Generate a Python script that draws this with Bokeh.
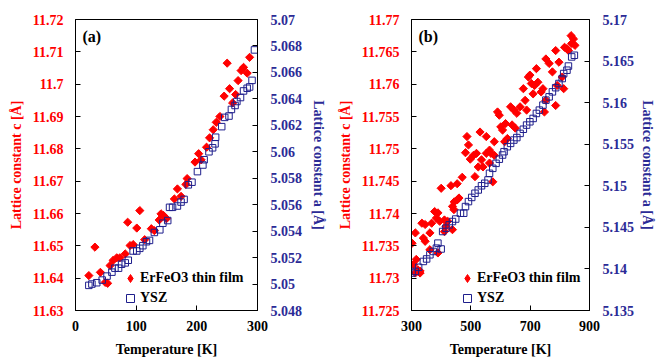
from bokeh.plotting import figure
from bokeh.models import (Range1d, LinearAxis, FixedTicker, CustomJSTickFormatter,
                          Legend, LegendItem, Label)
from bokeh.layouts import row
from bokeh.embed import file_html
from bokeh.resources import INLINE

# ---------------- data : panel (a) ----------------
a_film_T = [22, 32, 41, 49, 53, 57, 62, 68, 73, 82, 86, 90, 95, 101, 106, 114, 125, 130,
            138, 141, 145, 150, 163, 168, 174, 182, 184, 197, 203, 207, 216, 221, 227, 232,
            238, 245, 250, 254, 259, 264, 268, 273, 277, 283, 287]
a_film_c = [11.6408, 11.6496, 11.6418, 11.6387, 11.6384, 11.6439, 11.6455, 11.6463, 11.6463,
            11.6475, 11.6573, 11.6501, 11.6504, 11.6555, 11.6609, 11.6519, 11.6553, 11.6547,
            11.6580, 11.6599, 11.6594, 11.6584, 11.6645, 11.6676, 11.6653, 11.6690, 11.6708,
            11.6759, 11.6785, 11.6766, 11.6805, 11.6834, 11.6859, 11.6882, 11.6900, 11.6963,
            11.7065, 11.6986, 11.6942, 11.6968, 11.7011, 11.7042, 11.7052, 11.7034, 11.7083]
a_ysz_T = [22, 27, 35, 44, 52, 60, 65, 71, 76, 82, 87, 95, 101, 106, 111, 117, 122, 130, 139,
           144, 152, 155, 160, 168, 174, 179, 186, 192, 201, 210, 212, 220, 226, 230, 231, 241,
           246, 253, 257, 263, 266, 272, 277, 283, 287, 291, 295]
a_ysz_a = [5.0499, 5.0500, 5.0501, 5.0503, 5.0506, 5.0509, 5.0512, 5.0512, 5.0515, 5.0516,
           5.0518, 5.0525, 5.0525, 5.0527, 5.0529, 5.0532, 5.0533, 5.0539, 5.0541, 5.0546,
           5.0548, 5.0558, 5.0558, 5.0559, 5.0562, 5.0564, 5.0575, 5.0577, 5.0585, 5.0590,
           5.0594, 5.0600, 5.0603, 5.0606, 5.0611, 5.0619, 5.0626, 5.0627, 5.0632, 5.0635,
           5.0638, 5.0641, 5.0646, 5.0648, 5.0649, 5.0654, 5.0677]

# ---------------- data : panel (b) ----------------
b_film_T = [302, 307, 313, 316, 321, 329, 335, 340, 346, 346, 362, 368, 362, 378, 384, 389,
            395, 389, 400, 411, 416, 433, 438, 443, 438, 454, 454, 460, 471, 487, 492, 482,
            498, 509, 519, 514, 531, 536, 541, 552, 552, 563, 568, 579, 579, 563, 574, 590,
            596, 601, 607, 617, 614, 623, 634, 645, 639, 650, 655, 666, 677, 683, 688, 694,
            699, 704, 710, 721, 715, 726, 737, 743, 748, 753, 753, 764, 775, 786, 786, 791,
            797, 808, 813, 816, 824, 829, 838, 846, 840, 851, 444, 422, 411, 525, 313, 329]
b_film_c = [11.7354, 11.7321, 11.7370, 11.7329, 11.7313, 11.7311, 11.7385, 11.7362, 11.7383,
            11.7357, 11.7370, 11.7385, 11.7344, 11.7403, 11.7393, 11.7401, 11.7388, 11.7339,
            11.7439, 11.7390, 11.7380, 11.7443, 11.7411, 11.7406, 11.7375, 11.7446, 11.7421,
            11.7424, 11.7456, 11.7519, 11.7506, 11.7494, 11.7484, 11.7490, 11.7493, 11.7457,
            11.7526, 11.7483, 11.7472, 11.7519, 11.7493, 11.7498, 11.7493, 11.7511, 11.7490,
            11.7478, 11.7449, 11.7557, 11.7552, 11.7534, 11.7529, 11.7539, 11.7511, 11.7516,
            11.7565, 11.7560, 11.7537, 11.7532, 11.7555, 11.7565, 11.7593, 11.7575, 11.7560,
            11.7611, 11.7614, 11.7601, 11.7585, 11.7624, 11.7598, 11.7603, 11.7588, 11.7593,
            11.7557, 11.7575, 11.7639, 11.7632, 11.7619, 11.7652, 11.7567, 11.7598, 11.7634,
            11.7611, 11.7593, 11.7657, 11.7655, 11.7652, 11.7675, 11.7670, 11.7663, 11.7660,
            11.7418, 11.7388, 11.7372, 11.7472, 11.7308, 11.7308]
b_ysz_T = [302, 313, 324, 340, 351, 362, 373, 384, 389, 400, 405, 416, 427, 438, 449, 465,
           476, 482, 492, 503, 514, 525, 536, 547, 558, 563, 574, 585, 596, 607, 612, 623,
           634, 645, 655, 666, 677, 688, 699, 710, 721, 731, 743, 753, 764, 775, 786, 797,
           808, 813, 824, 829, 840, 849]
b_ysz_a = [5.1395, 5.1397, 5.1402, 5.1409, 5.1412, 5.1417, 5.1421, 5.1425, 5.1431, 5.1424,
           5.1445, 5.1449, 5.1453, 5.1457, 5.1460, 5.1467, 5.1467, 5.1475, 5.1481, 5.1486,
           5.1491, 5.1495, 5.1500, 5.1503, 5.1507, 5.1515, 5.1521, 5.1527, 5.1532, 5.1537,
           5.1541, 5.1547, 5.1551, 5.1555, 5.1558, 5.1563, 5.1568, 5.1573, 5.1577, 5.1581,
           5.1587, 5.1591, 5.1597, 5.1603, 5.1607, 5.1613, 5.1618, 5.1623, 5.1629, 5.1635,
           5.1639, 5.1644, 5.1655, 5.1657]

# ---------------- ticks ----------------
a_xticks = [0, 100, 200, 300]
a_cticks = [11.63, 11.64, 11.65, 11.66, 11.67, 11.68, 11.69, 11.70, 11.71, 11.72]
a_aticks = [5.048, 5.050, 5.052, 5.054, 5.056, 5.058, 5.060, 5.062, 5.064, 5.066, 5.068, 5.070]
b_xticks = [300, 500, 700, 900]
b_cticks = [11.725, 11.73, 11.735, 11.74, 11.745, 11.75, 11.755, 11.76, 11.765, 11.77]
b_aticks = [5.135, 5.14, 5.145, 5.15, 5.155, 5.16, 5.165, 5.17]

legend_labels = ["ErFeO3 thin film", "YSZ"]
c_label = "Lattice constant c [Å]"
a_label = "Lattice constant a [Å]"
x_label = "Temperature [K]"

RED = "#FF0000"
BLUE = "#2B2B96"
SQ = "#1E1E8C"
FONT = "'Liberation Serif', serif"
FMT = CustomJSTickFormatter(code="return parseFloat(tick.toFixed(4)).toString();")
NAN = float("nan")


def style_axis(ax, color, ticks, label, lab_standoff, tick_standoff):
    ax.ticker = FixedTicker(ticks=ticks)
    ax.formatter = FMT
    ax.axis_label = label
    ax.axis_label_text_font = FONT
    ax.axis_label_text_font_style = "bold"
    ax.axis_label_text_font_size = "14px"
    ax.axis_label_text_color = color
    ax.axis_label_standoff = lab_standoff
    ax.major_label_text_font = FONT
    ax.major_label_text_font_style = "bold"
    ax.major_label_text_font_size = "14px"
    ax.major_label_text_color = color
    ax.major_label_standoff = tick_standoff
    ax.major_tick_in = 5
    ax.major_tick_out = 0
    ax.minor_tick_in = 0
    ax.minor_tick_out = 0
    ax.axis_line_color = "black"
    ax.major_tick_line_color = "black"


def panel(film_T, film_c, ysz_T, ysz_a, xr, cr, ar, xticks, cticks, aticks, tag,
          bl, br, leg_x, right_lab_standoff):
    p = figure(width=329, height=360, x_range=Range1d(*xr), y_range=Range1d(*cr),
               output_backend="svg", toolbar_location=None,
               min_border_left=bl, min_border_right=br, min_border_top=19,
               min_border_bottom=50)
    p.extra_y_ranges = {"a": Range1d(*ar)}
    p.xgrid.visible = False
    p.ygrid.visible = False
    p.outline_line_color = "black"
    p.outline_line_width = 1
    p.background_fill_color = "white"
    p.border_fill_color = "white"

    right = LinearAxis(y_range_name="a")
    p.add_layout(right, "right")

    style_axis(p.below[0], "black", xticks, x_label, 8, 10)
    style_axis(p.left[0], RED, cticks, c_label, 6, 12)
    style_axis(right, BLUE, aticks, a_label, right_lab_standoff, 13)

    # film: filled diamonds (square turned by 45 degrees)
    p.scatter(film_T, film_c, marker="square", angle=0.7854, size=5.8,
              fill_color=RED, line_color=RED)
    r2 = p.scatter(ysz_T, ysz_a, y_range_name="a", marker="square", size=6.5,
                   fill_color=None, line_color=SQ, line_width=1)
    # legend swatch for the film series (not drawn in the plot area)
    r1 = p.scatter([NAN], [NAN], marker="diamond", fill_color=RED, line_color=RED)

    leg = Legend(items=[LegendItem(label=legend_labels[0], renderers=[r1]),
                        LegendItem(label=legend_labels[1], renderers=[r2])],
                 location=(leg_x, 2), border_line_alpha=0, background_fill_alpha=0,
                 padding=0, spacing=0, margin=0, glyph_width=20, glyph_height=20,
                 label_height=20, label_standoff=0, label_text_font=FONT,
                 label_text_font_style="bold", label_text_font_size="14px",
                 label_text_color="black")
    p.add_layout(leg)

    p.add_layout(Label(x=7, y=283, x_units="screen", y_units="screen", text=tag,
                       text_font=FONT, text_font_style="bold", text_font_size="16px",
                       text_baseline="top", text_color="black"))
    return p


p1 = panel(a_film_T, a_film_c, a_ysz_T, a_ysz_a, (0, 300), (11.63, 11.72), (5.048, 5.07),
           a_xticks, a_cticks, a_aticks, "(a)", 75, 70, 45, 6)
p2 = panel(b_film_T, b_film_c, b_ysz_T, b_ysz_a, (300, 900), (11.725, 11.77), (5.135, 5.17),
           b_xticks, b_cticks, b_aticks, "(b)", 82, 63, 46, 3)

layout = row(p1, p2)
open("out.html", "w").write(file_html(layout, INLINE))
